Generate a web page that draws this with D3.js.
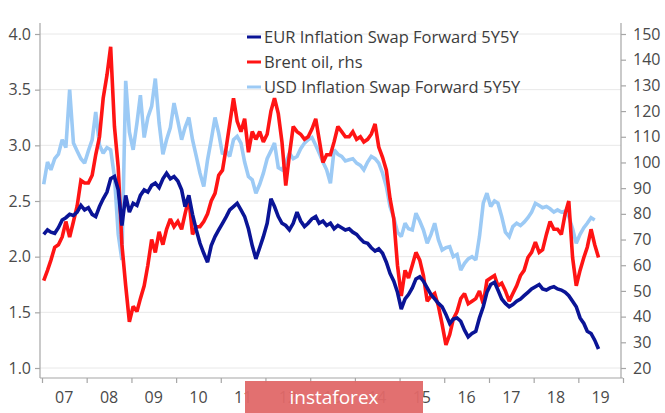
<!DOCTYPE html>
<html><head><meta charset="utf-8">
<script src="https://cdn.jsdelivr.net/npm/d3@7"></script>
<style>body{margin:0;background:#fff}svg{display:block}text{font-family:"Open Sans",sans-serif}</style>
</head><body><svg id="c" width="665" height="413"></svg>
<script>
// ---- data (monthly, Jan 2007 .. Jun 2019) ----
const startYear = 2007, startMonth = 0;
const yearLabels = ["07","08","09","10","11","12","13","14","15","16","17","18","19"];
const leftTicks = [1.0,1.5,2.0,2.5,3.0,3.5,4.0];
const rightTicks = [20,30,40,50,60,70,80,90,100,110,120,130,140,150];
const seriesNames = ["EUR Inflation Swap Forward 5Y5Y","Brent oil, rhs","USD Inflation Swap Forward 5Y5Y"];
const eur = [
 2.20,2.24,2.22,2.21,2.26,2.33,2.35,2.38,2.37,2.40,2.46,2.42,
 2.44,2.38,2.36,2.45,2.52,2.58,2.70,2.72,2.60,2.28,2.55,2.40,
 2.48,2.46,2.55,2.60,2.58,2.64,2.66,2.62,2.70,2.75,2.70,2.72,
 2.68,2.60,2.45,2.55,2.38,2.24,2.12,2.03,1.95,2.10,2.18,2.24,
 2.30,2.36,2.42,2.45,2.48,2.42,2.36,2.25,2.10,1.98,2.08,2.18,
 2.30,2.52,2.45,2.36,2.30,2.28,2.24,2.30,2.40,2.32,2.27,2.30,
 2.34,2.36,2.30,2.32,2.28,2.30,2.25,2.28,2.26,2.24,2.25,2.22,
 2.20,2.16,2.13,2.12,2.08,2.05,2.07,2.03,1.95,1.85,1.78,1.68,
 1.53,1.62,1.66,1.72,1.80,1.82,1.78,1.72,1.66,1.62,1.58,1.55,
 1.48,1.40,1.44,1.45,1.42,1.34,1.28,1.31,1.33,1.45,1.55,1.68,
 1.75,1.77,1.70,1.62,1.58,1.55,1.57,1.60,1.62,1.65,1.68,1.71,
 1.73,1.75,1.71,1.70,1.72,1.73,1.71,1.70,1.68,1.65,1.60,1.55,
 1.45,1.40,1.33,1.31,1.25,1.17];
const brent = [
 54,58,62,67,68,71,77,71,77,83,93,92,
 92,95,103,110,125,134,145,114,98,68,52,38,
 44,42,47,52,60,70,65,73,68,74,78,75,
 77,74,80,86,72,75,75,77,80,85,88,95,
 97,106,115,125,116,112,117,104,112,109,112,108,
 111,120,125,119,108,91,103,114,112,111,109,110,
 113,117,109,100,103,103,108,114,112,110,110,112,
 109,110,108,109,111,115,106,102,97,86,78,60,
 48,58,55,60,65,62,56,46,48,49,44,37,
 29,33,39,42,47,49,45,46,47,50,45,54,
 55,56,52,53,50,46,49,52,56,58,63,65,
 69,65,66,72,77,74,74,72,80,85,63,52,
 58,63,67,74,68,63];
const usd = [
 2.65,2.85,2.78,2.88,2.92,3.05,2.98,3.50,3.02,2.95,2.88,2.84,
 2.95,3.05,3.30,3.00,2.93,2.98,2.96,2.72,2.20,1.97,3.58,3.12,
 2.96,3.20,3.45,3.07,3.25,3.35,3.60,3.20,2.92,3.05,3.16,3.38,
 3.22,3.05,3.16,3.25,3.05,2.90,2.75,2.63,2.87,3.05,3.25,3.11,
 2.92,2.95,2.90,3.05,3.08,3.02,2.85,2.72,2.69,2.57,2.65,2.75,
 2.88,2.95,3.02,2.80,2.78,2.84,2.93,2.88,2.90,2.97,3.02,3.05,
 3.07,3.00,2.93,2.85,2.78,2.66,2.96,2.92,2.90,2.86,2.87,2.88,
 2.84,2.82,2.78,2.85,2.90,2.88,2.84,2.75,2.63,2.45,2.35,2.22,
 2.18,2.30,2.25,2.24,2.39,2.32,2.24,2.12,2.20,2.30,2.15,2.06,
 2.08,2.09,2.00,2.02,1.88,1.94,1.98,2.00,1.97,2.18,2.48,2.57,
 2.45,2.50,2.48,2.36,2.22,2.18,2.27,2.30,2.28,2.31,2.35,2.40,
 2.48,2.46,2.44,2.45,2.43,2.40,2.42,2.40,2.41,2.36,2.25,2.12,
 2.20,2.26,2.30,2.35,2.33];
const colors = {eur:"#0a1496", brent:"#ff1414", usd:"#9ccaf5"};

(function(){
// ---- layout ----
const svg = d3.select("#c");
const pLeft = 40, pRight = 621, pTop = 34, pBottom = 368, axisY = 378, axisTop = 23;
const dateOf = i => new Date(startYear, startMonth + i, 15);
const x = d3.scaleTime().domain([new Date(2007,0,1), new Date(2020,0,1)]).range([42, 623]);
const yL = d3.scaleLinear().domain([1,4]).range([pBottom, pTop]);
const yR = d3.scaleLinear().domain([20,150]).range([pBottom, pTop]);

// gridlines
svg.append("g").selectAll("line").data(leftTicks).join("line")
  .attr("x1", pLeft).attr("x2", pRight)
  .attr("y1", d => yL(d)).attr("y2", d => yL(d))
  .attr("stroke", "#e8e8e8").attr("stroke-width", 1);

// axes lines
const axisCol = "#a6a6a6";
svg.append("line").attr("x1", pLeft).attr("x2", pLeft).attr("y1", axisTop).attr("y2", axisY).attr("stroke", axisCol).attr("stroke-width",1.2);
svg.append("line").attr("x1", pRight).attr("x2", pRight).attr("y1", axisTop).attr("y2", axisY).attr("stroke", axisCol).attr("stroke-width",1.2);
svg.append("line").attr("x1", pLeft).attr("x2", pRight+2).attr("y1", axisY).attr("y2", axisY).attr("stroke", axisCol).attr("stroke-width",1.2);

// left axis
const gl = svg.append("g").attr("transform", `translate(${pLeft},0)`)
  .call(d3.axisLeft(yL).tickValues(leftTicks).tickFormat(d3.format(".1f")).tickSize(5).tickPadding(4));
// right axis
const gr = svg.append("g").attr("transform", `translate(${pRight},0)`)
  .call(d3.axisRight(yR).tickValues(rightTicks).tickSize(5).tickPadding(7));
// bottom axis: ticks at year boundaries, labels mid-year
const yearTicks = d3.range(startYear, startYear + yearLabels.length + 1).map(y => new Date(y,0,1));
const gb = svg.append("g").attr("transform", `translate(0,${axisY})`)
  .call(d3.axisBottom(x).tickValues(yearTicks).tickFormat("").tickSize(5));
svg.append("g").selectAll("text").data(yearLabels).join("text")
  .attr("x", (d,i) => x(new Date(startYear+i,6,2)))
  .attr("y", 403).attr("text-anchor","middle")
  .attr("font-size", 16).attr("fill", "#4a4a4a").text(d => d);

[gl, gr, gb].forEach(g => {
  g.select(".domain").remove();
  g.selectAll(".tick line").attr("stroke", axisCol).attr("stroke-width",1.2);
  g.selectAll(".tick text").attr("font-size", 16).attr("fill", "#4a4a4a").attr("font-family", '"Open Sans",sans-serif');
});

// lines
const mk = (ys) => d3.line().x((d,i) => x(dateOf(i))).y(d => ys(d));
const plot = (data, ys, col) => svg.append("path").datum(data)
  .attr("d", mk(ys)).attr("fill","none").attr("stroke", col)
  .attr("stroke-width", 3.6).attr("stroke-linejoin","miter").attr("stroke-miterlimit",2);
plot(usd, yL, colors.usd);
plot(brent, yR, colors.brent);
plot(eur, yL, colors.eur);

// legend
const lg = svg.append("g");
const legendCols = [colors.eur, colors.brent, colors.usd];
seriesNames.forEach((n,i) => {
  const yy = 37 + i*25;
  lg.append("line").attr("x1",247).attr("x2",261).attr("y1",yy).attr("y2",yy)
    .attr("stroke", legendCols[i]).attr("stroke-width",3);
  lg.append("text").attr("x",264).attr("y",yy).attr("dy","0.35em")
    .attr("font-size",16.5).attr("fill","#3c3c3c").text(n);
});

// watermark
svg.append("rect").attr("x",245).attr("y",381).attr("width",178).attr("height",32)
  .attr("fill","#e06868").attr("opacity",0.95);
svg.append("text").attr("x",334).attr("y",397).attr("dy","0.35em").attr("text-anchor","middle")
  .attr("font-size",19).attr("fill","#fff").text("instaforex");
})();
</script></body></html>
